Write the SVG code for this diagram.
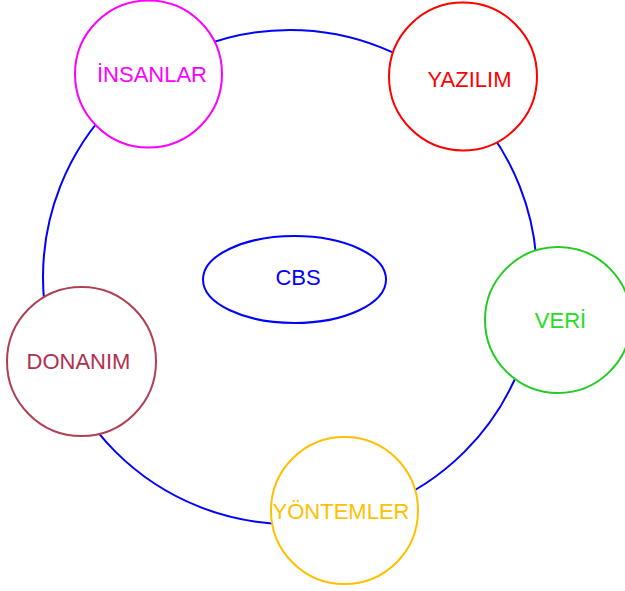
<svg xmlns="http://www.w3.org/2000/svg" width="625" height="591" viewBox="0 0 625 591">
<style>
.n{fill:#fff;stroke-width:2}
.t{font-family:"Liberation Sans",Arial,sans-serif;font-size:22px;text-anchor:middle}
</style>
<rect width="625" height="591" fill="#fff"/>
<g id="connectors">
<circle cx="290" cy="277" r="247" fill="none" stroke="#0000ff" stroke-width="2"/>
</g>
<g id="cbs">
<ellipse cx="294.5" cy="279.5" rx="91.5" ry="43.5" class="n" stroke="#0000ff"/>
<text x="298" y="285" class="t" fill="#0000ff">CBS</text>
</g>
<g id="insanlar">
<circle cx="148.5" cy="74" r="73.5" class="n" stroke="#ff00ff"/>
<text x="152" y="82" class="t" fill="#ff00ff">İNSANLAR</text>
</g>
<g id="yazilim">
<circle cx="463" cy="76.5" r="74" class="n" stroke="#ff0000"/>
<text x="469.5" y="87" class="t" fill="#ff0000">YAZILIM</text>
</g>
<g id="veri">
<circle cx="558" cy="320" r="73" class="n" stroke="#22cc22"/>
<text x="560.5" y="328" class="t" fill="#22dd22">VERİ</text>
</g>
<g id="donanim">
<circle cx="81.5" cy="361.5" r="74.5" class="n" stroke="#b04050"/>
<text x="78.5" y="369" class="t" fill="#b03050">DONANIM</text>
</g>
<g id="yontemler">
<circle cx="344.5" cy="510.5" r="73.5" class="n" stroke="#ffc000"/>
<text x="341" y="519" class="t" fill="#ffc000">YÖNTEMLER</text>
</g>
</svg>
